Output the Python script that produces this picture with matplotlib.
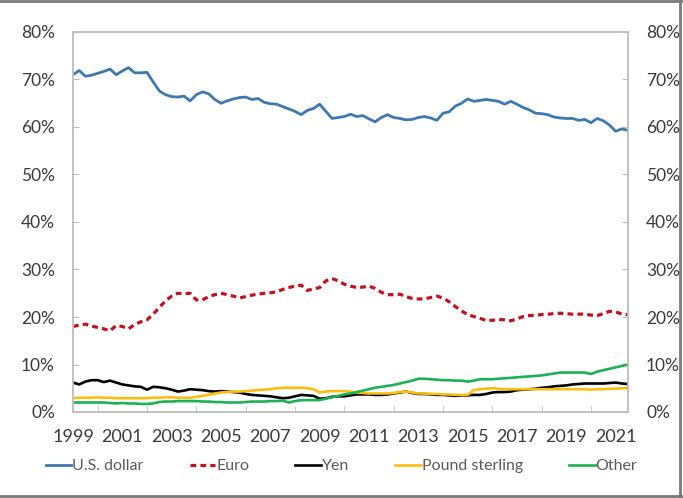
import matplotlib
matplotlib.use("Agg")
import matplotlib.pyplot as plt
from matplotlib.lines import Line2D
from matplotlib.ticker import FixedLocator, FuncFormatter
import numpy as np

# Quarterly data, 1999Q1 .. 2021Q3 (share of allocated reserves, %)
start_year = 1999
usd = [71.0, 71.9, 70.7, 70.9, 71.3, 71.7, 72.2, 71.0, 71.8, 72.5,
       71.4, 71.4, 71.5, 69.5, 67.6, 66.8, 66.4, 66.3, 66.5, 65.5,
       66.8, 67.4, 67.0, 65.8, 65.0, 65.5, 65.9, 66.2, 66.3, 65.8,
       66.0, 65.2, 64.9, 64.8, 64.3, 63.8, 63.3, 62.6, 63.5, 63.9,
       64.8, 63.3, 61.8, 62.0, 62.2, 62.7, 62.2, 62.4, 61.7, 61.1,
       62.0, 62.6, 62.0, 61.8, 61.5, 61.6, 62.0, 62.2, 61.9, 61.4,
       62.9, 63.2, 64.4, 65.0, 65.9, 65.4, 65.6, 65.8, 65.6, 65.4,
       64.8, 65.4, 64.8, 64.1, 63.6, 62.9, 62.8, 62.6, 62.1, 61.9,
       61.8, 61.8, 61.4, 61.6, 60.9, 61.8, 61.3, 60.4, 59.1, 59.6,
       59.3]
euro = [18.0, 18.3, 18.5, 18.1, 17.8, 17.5, 17.1, 18.2, 18.0, 17.5,
        18.4, 19.0, 19.4, 20.6, 22.0, 23.4, 24.4, 25.0, 24.9, 25.0,
        23.6, 23.6, 24.3, 24.7, 25.0, 24.7, 24.4, 24.0, 24.3, 24.6,
        24.8, 25.0, 25.1, 25.3, 25.8, 26.2, 26.5, 26.7, 25.6, 25.9,
        26.2, 27.6, 28.1, 27.6, 26.9, 26.5, 26.2, 26.3, 26.5, 26.0,
        25.2, 24.7, 24.7, 24.8, 24.3, 23.9, 23.8, 23.8, 24.1, 24.4,
        24.0, 23.2, 22.2, 21.3, 20.5, 20.1, 19.7, 19.3, 19.3, 19.5,
        19.4, 19.2, 19.6, 20.1, 20.3, 20.4, 20.5, 20.6, 20.7, 20.8,
        20.7, 20.6, 20.6, 20.6, 20.4, 20.3, 20.7, 21.2, 21.1, 20.6,
        20.5]
yen = [6.2, 5.8, 6.4, 6.7, 6.7, 6.3, 6.6, 6.2, 5.8, 5.6,
       5.4, 5.3, 4.7, 5.3, 5.2, 5.0, 4.7, 4.3, 4.5, 4.8,
       4.7, 4.6, 4.4, 4.3, 4.4, 4.3, 4.2, 4.1, 3.8, 3.6,
       3.5, 3.4, 3.3, 3.1, 2.9, 3.0, 3.3, 3.6, 3.5, 3.4,
       2.8, 2.9, 3.2, 3.3, 3.3, 3.5, 3.7, 3.7, 3.7, 3.6,
       3.6, 3.7, 3.9, 4.1, 4.3, 4.0, 3.8, 3.8, 3.7, 3.6,
       3.6, 3.5, 3.4, 3.5, 3.5, 3.6, 3.6, 3.8, 4.1, 4.2,
       4.2, 4.3, 4.6, 4.7, 4.8, 4.9, 5.1, 5.2, 5.4, 5.5,
       5.6, 5.8, 5.9, 6.0, 6.0, 6.0, 6.0, 6.1, 6.2, 6.0,
       5.9]
pound = [2.9, 3.0, 3.0, 3.0, 3.1, 3.0, 3.0, 2.9, 2.9, 2.9,
         2.9, 2.9, 2.9, 3.0, 3.0, 3.1, 3.1, 3.0, 3.0, 3.0,
         3.2, 3.4, 3.6, 3.9, 4.1, 4.2, 4.3, 4.3, 4.4, 4.5,
         4.6, 4.7, 4.8, 5.0, 5.1, 5.1, 5.1, 5.1, 5.0, 4.8,
         4.1, 4.3, 4.4, 4.4, 4.4, 4.3, 4.1, 4.0, 3.9, 3.9,
         3.9, 3.9, 4.0, 4.2, 4.3, 4.1, 3.9, 3.9, 3.8, 3.8,
         3.7, 3.7, 3.6, 3.6, 3.6, 4.6, 4.8, 4.9, 5.0, 4.9,
         4.8, 4.8, 4.8, 4.8, 4.8, 4.8, 4.8, 4.8, 4.8, 4.8,
         4.8, 4.8, 4.8, 4.8, 4.7, 4.8, 4.8, 4.9, 4.9, 5.0,
         5.0]
other = [2.0, 2.0, 2.0, 2.0, 2.0, 2.0, 1.9, 1.8, 1.9, 1.8,
         1.8, 1.7, 1.7, 1.8, 2.1, 2.2, 2.2, 2.3, 2.3, 2.3,
         2.3, 2.2, 2.2, 2.1, 2.1, 2.0, 2.0, 2.0, 2.1, 2.2,
         2.2, 2.2, 2.3, 2.3, 2.4, 2.0, 2.3, 2.5, 2.5, 2.5,
         2.5, 2.8, 3.1, 3.4, 3.7, 3.9, 4.2, 4.5, 4.8, 5.1,
         5.3, 5.5, 5.7, 6.0, 6.3, 6.6, 7.0, 7.0, 6.9, 6.8,
         6.7, 6.7, 6.6, 6.6, 6.4, 6.6, 6.9, 6.9, 6.9, 7.0,
         7.1, 7.2, 7.3, 7.4, 7.5, 7.6, 7.7, 7.9, 8.1, 8.3,
         8.3, 8.3, 8.3, 8.3, 8.0, 8.5, 8.8, 9.1, 9.4, 9.7,
         10.0]

series_names = ["U.S. dollar", "Euro", "Yen", "Pound sterling", "Other"]
year_labels = list(range(1999, 2022, 2))
y_ticks = list(range(0, 81, 10))

plt.rcParams['font.family'] = ['Lato', 'DejaVu Sans']

fig = plt.figure(figsize=(6.83, 4.98), dpi=100)
ax = fig.add_axes([73/683, 1-412/498, (628-73)/683, (412-32)/498])

t = start_year + np.arange(len(usd)) / 4.0

styles = [
    dict(color="#3f78ad", lw=2.0),
    dict(color="#c0121f", lw=2.3, dashes=(1.8, 1.3)),
    dict(color="#000000", lw=1.9),
    dict(color="#fcbf11", lw=1.9),
    dict(color="#1db157", lw=1.9),
]
data = [usd, euro, yen, pound, other]
for name, vals, st in zip(series_names, data, styles):
    ax.plot(t, vals, label=name, solid_capstyle='round', **st)

ax.set_xlim(1999, 2021.5)
ax.set_ylim(0, 80)

spine_col = "#bdbdbd"
for s in ax.spines.values():
    s.set_color(spine_col)
    s.set_linewidth(1.3)

ax.yaxis.set_major_locator(FixedLocator(y_ticks))
ax.yaxis.set_major_formatter(FuncFormatter(lambda v, p: f"{int(v)}%"))
ax.xaxis.set_major_locator(FixedLocator(year_labels))
ax.xaxis.set_minor_locator(FixedLocator(list(range(2000, 2022))))
ax.xaxis.set_major_formatter(FuncFormatter(lambda v, p: f"{int(v)}"))

lab_col = "#3a3a3a"
ax.tick_params(axis='y', which='both', direction='in', length=4, color=spine_col,
               left=True, right=True, labelleft=True, labelright=True,
               labelsize=12.5, labelcolor=lab_col, pad=13)
ax.tick_params(axis='x', which='both', direction='in', length=4, color=spine_col,
               labelsize=13, labelcolor=lab_col, pad=12)
ax.tick_params(axis='x', which='major', length=0)

handles = []
for name, st in zip(series_names, styles):
    handles.append(Line2D([0], [0], label=name, **st))
leg = fig.legend(handles=handles, loc='center', bbox_to_anchor=(0.5, 1-466/498),
                 ncol=5, frameon=False, fontsize=11.5, handlelength=1.6,
                 handletextpad=0.05, columnspacing=2.9, borderaxespad=0)
for txt in leg.get_texts():
    txt.set_color("#5a5a5a")

# outer frame of the picture
bc = "#7a7a7a"
fig.add_artist(Line2D([0, 1], [1-1.5/498, 1-1.5/498], transform=fig.transFigure, color=bc, lw=2))
fig.add_artist(Line2D([1-3/683, 1-3/683], [0, 1], transform=fig.transFigure, color=bc, lw=2))
fig.add_artist(Line2D([0, 1], [2.5/498, 2.5/498], transform=fig.transFigure, color=bc, lw=2))

fig.savefig("out.png", dpi=100)
